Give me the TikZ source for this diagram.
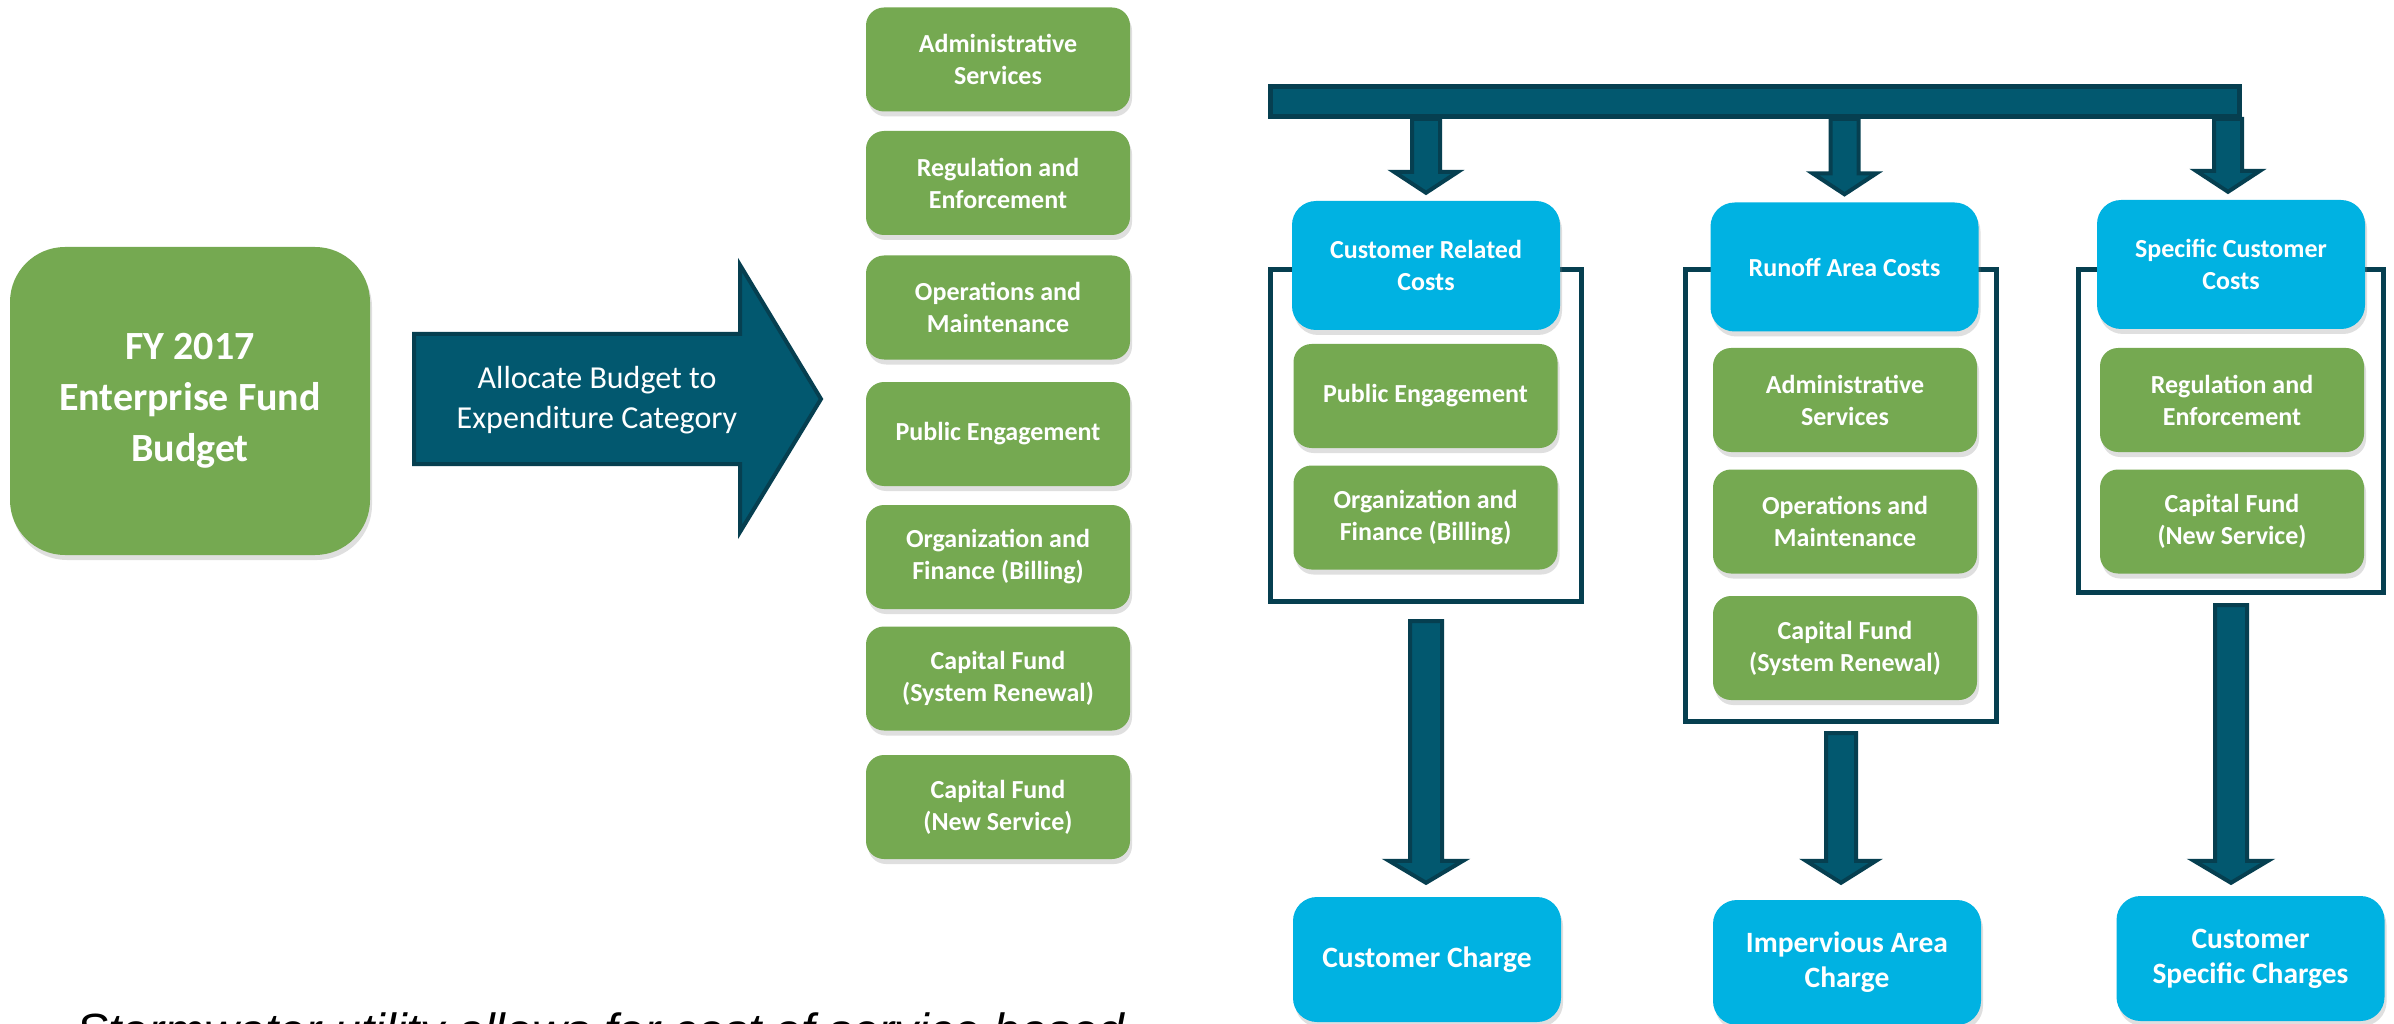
\documentclass[tikz,border=0pt]{standalone}
\usepackage{fontspec}
\setmainfont{Carlito}
\newfontfamily\capfont{Liberation Sans}
\usetikzlibrary{calc,shadows}
\definecolor{gbox}{HTML}{75A951}
\definecolor{bbox}{HTML}{00B2E2}
\definecolor{navy}{HTML}{02586F}
\definecolor{navyd}{HTML}{063F50}
\tikzset{
  base/.style={rectangle, inner sep=0pt, align=center, text=white,
    font=\bfseries\fontsize{26}{32}\selectfont,
    drop shadow={opacity=0.25, shadow xshift=2pt, shadow yshift=-5pt}},
  gsmall/.style={base, fill=gbox, rounded corners=18pt, minimum width=264pt, minimum height=104pt},
  bcol/.style={base, fill=bbox, rounded corners=24pt, minimum width=268pt, minimum height=129pt},
  bcharge/.style={bcol, minimum height=125pt, font=\bfseries\fontsize{29.5}{35}\selectfont},
  frame/.style={draw=navyd, line width=5pt, rectangle, inner sep=0pt},
  blockarr/.style={fill=navy, draw=navyd, line width=4pt, line join=miter},
}
\newcommand{\blockarrow}[5]{\path[blockarr] let \p1=(#1), \p2=(#2) in
  (\x1-#3pt,\y1) -- (\x1+#3pt,\y1) -- (\x1+#3pt,\y2+#5pt) -- (\x1+#4pt,\y2+#5pt)
  -- (\x1,\y2) -- (\x1-#4pt,\y2+#5pt) -- (\x1-#3pt,\y2+#5pt) -- cycle;}
\begin{document}
\begin{tikzpicture}[x=1pt,y=-1pt]
\useasboundingbox (0,0) rectangle (2394,1024);
\fill[white] (0,0) rectangle (2394,1024);

% source budget
\node[base, fill=gbox, rounded corners=55pt, minimum width=360pt, minimum height=308pt,
  font=\bfseries\fontsize{40}{51}\selectfont] (fy) at (190,401) {FY 2017\\Enterprise Fund\\Budget};

% big allocation arrow
\path[blockarr] (414,334) -- (740,334) -- (740,265) -- (821,399) -- (740,532) -- (740,464) -- (414,464) -- cycle;
\node[text=white, align=center, font=\fontsize{32}{40}\selectfont] (alloc) at (597,400) {Allocate Budget to\\Expenditure Category};

% expenditure categories
\node[gsmall] (l1) at (998,59.5) {Administrative\\Services};
\node[gsmall] (l2) at (998,183) {Regulation and\\Enforcement};
\node[gsmall] (l3) at (998,307.5) {Operations and\\Maintenance};
\node[gsmall] (l4) at (998,434) {Public Engagement};
\node[gsmall] (l5) at (998,557) {Organization and\\Finance (Billing)};
\node[gsmall] (l6) at (998,678.5) {Capital Fund\\(System Renewal)};
\node[gsmall] (l7) at (998,807) {Capital Fund\\(New Service)};

% top distribution bar
\node[rectangle, fill=navy, draw=navyd, line width=5pt, inner sep=0pt,
  minimum width=969pt, minimum height=30pt] (bar) at (1755,101.5) {};

% column frames
\node[frame, minimum width=311pt, minimum height=332pt] (b1) at (1426,435.5) {};
\node[frame, minimum width=311pt, minimum height=452pt] (b2) at (1841,495.5) {};
\node[frame, minimum width=305pt, minimum height=323pt] (b3) at (2231,431) {};

% cost pools
\node[bcol] (crc) at (1426,265.5) {Customer Related\\Costs};
\node[bcol] (roa) at (1844.5,267) {Runoff Area Costs};
\node[bcol] (scc) at (2231,264.5) {Specific Customer\\Costs};

\node[gsmall] (pe) at (1425.5,396) {Public Engagement};
\node[gsmall] (of) at (1425.5,517.5) {Organization and\\Finance (Billing)};
\node[gsmall] (as) at (1845,400) {Administrative\\Services};
\node[gsmall] (om) at (1845,521.5) {Operations and\\Maintenance};
\node[gsmall] (cf1) at (1845,648) {Capital Fund\\(System Renewal)};
\node[gsmall] (re) at (2232,400) {Regulation and\\Enforcement};
\node[gsmall] (cf2) at (2232,521.5) {Capital Fund\\(New Service)};

% charges
\node[bcharge] (cc) at (1427,959.5) {Customer Charge};
\node[bcharge] (iac) at (1847,962.5) {Impervious Area\\Charge};
\node[bcharge] (csc) at (2250.5,958.5) {Customer\\Specific Charges};

% arrows from bar to cost pools
\blockarrow{bar.south -| crc}{$(crc.north)+(0,-8)$}{14}{32}{21}
\blockarrow{bar.south -| roa}{$(roa.north)+(0,-8)$}{14}{32}{21}
\blockarrow{$(bar.south east)+(-14,0)$}{$(scc.north)+(0,-8)$}{14}{32}{21}

% arrows from cost pools to charges
\blockarrow{$(b1.south)+(0,17)$}{$(cc.north)+(0,-14)$}{16}{37}{22}
\blockarrow{$(b2.south)+(0,9)$}{$(iac.north)+(0,-17)$}{15}{35}{22}
\blockarrow{$(b3.south)+(0,10)$}{$(csc.north)+(0,-13)$}{16}{37}{22}

% caption (cut off by the page edge, as in the original)
\node[anchor=base west, inner sep=0pt, font=\capfont\itshape\fontsize{48}{58}\selectfont] (cap) at (76,1047) {Stormwater utility allows for cost of service based};
\end{tikzpicture}
\end{document}
